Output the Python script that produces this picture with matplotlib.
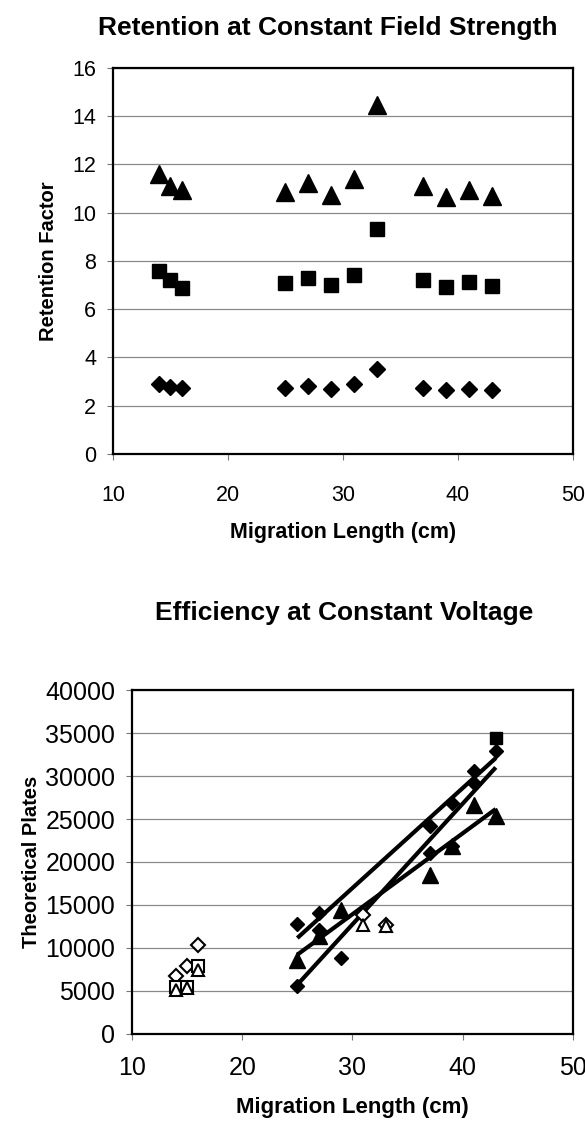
import matplotlib
matplotlib.use("Agg")
from matplotlib import pyplot as plt

plt.rcParams["font.family"] = ["Liberation Sans", "DejaVu Sans"]

# --- top chart: retention factor vs migration length ---
length_top = [14, 15, 16, 25, 27, 29, 31, 33, 37, 39, 41, 43]
ret_triangle = [11.6, 11.12, 10.93, 10.84, 11.23, 10.73, 11.4, 14.45, 11.09, 10.64, 10.95, 10.7]
ret_square = [7.6, 7.22, 6.89, 7.07, 7.3, 6.99, 7.43, 9.32, 7.2, 6.92, 7.12, 6.95]
ret_diamond = [2.91, 2.78, 2.75, 2.72, 2.8, 2.71, 2.89, 3.54, 2.73, 2.64, 2.71, 2.65]

# --- bottom chart: theoretical plates vs migration length ---
dia_x = [25, 27, 37, 39, 41, 25, 27, 29, 37, 39, 41, 43]
dia_y = [12800, 14070, 24140, 26860, 30530, 5540, 12130, 8840, 21050, 21810, 29190, 32860]
sq_x = [43]
sq_y = [34420]
tri_x = [25, 27, 29, 37, 39, 41, 43]
tri_y = [8640, 11350, 14370, 18520, 21810, 26660, 25380]

open_dia_x = [14, 15, 16, 31, 33]
open_dia_y = [6780, 7940, 10350, 13870, 12710]
open_sq_x = [14, 15, 16]
open_sq_y = [5470, 5470, 7860]
open_tri_x = [14, 15, 16, 31, 33]
open_tri_y = [5070, 5350, 7480, 12710, 12520]

trend_x = [25, 43]
trend_a = [11160, 32090]
trend_b = [5730, 31000]
trend_c = [9220, 26160]

fig = plt.figure(figsize=(5.85, 11.24), dpi=100)


def style_axes(ax, ylim, yticks, tick_size, xpad):
    ax.set_xlim(10, 50)
    ax.set_ylim(*ylim)
    ax.set_xticks([10, 20, 30, 40, 50])
    ax.set_yticks(yticks)
    ax.grid(axis="y", color="#8a8a8a", lw=0.9)
    ax.set_axisbelow(True)
    for s in ax.spines.values():
        s.set_linewidth(1.6)
        s.set_color("black")
    ax.tick_params(direction="out", length=4, width=0.8, color="#777777",
                   labelsize=tick_size)
    ax.tick_params(axis="x", pad=xpad)
    ax.tick_params(axis="y", pad=8)


ax1 = fig.add_axes([0.193, 0.5961, 0.786, 0.3434])
style_axes(ax1, (0, 16), range(0, 17, 2), 15.5, 18)
ax1.plot(length_top, ret_triangle, "^", color="black", ms=13)
ax1.plot(length_top, ret_square, "s", color="black", ms=9.5)
ax1.plot(length_top, ret_diamond, "D", color="black", ms=8)
ax1.set_xlabel("Migration Length (cm)", fontsize=15.5, fontweight="bold", labelpad=12)
ax1.set_ylabel("Retention Factor", fontsize=14.5, fontweight="bold", labelpad=10)
fig.text(0.56, 1 - 28 / 1124, "Retention at Constant Field Strength",
         ha="center", va="center", fontsize=19, fontweight="bold")

ax2 = fig.add_axes([0.2256, 0.0801, 0.7538, 0.306])
style_axes(ax2, (0, 40000), range(0, 40001, 5000), 18, 12)
ax2.plot(trend_x, trend_a, "-", color="black", lw=3, solid_capstyle="butt")
ax2.plot(trend_x, trend_b, "-", color="black", lw=3, solid_capstyle="butt")
ax2.plot(trend_x, trend_c, "-", color="black", lw=3, solid_capstyle="butt")
ax2.plot(dia_x, dia_y, "D", color="black", ms=7.5)
ax2.plot(sq_x, sq_y, "s", color="black", ms=9)
ax2.plot(tri_x, tri_y, "^", color="black", ms=11)
ax2.plot(open_dia_x, open_dia_y, "D", mfc="white", mec="black", mew=1.5, ms=7)
ax2.plot(open_sq_x, open_sq_y, "s", mfc="white", mec="black", mew=1.5, ms=8.5)
ax2.plot(open_tri_x, open_tri_y, "^", mfc="white", mec="black", mew=1.5, ms=8)
ax2.set_xlabel("Migration Length (cm)", fontsize=16, fontweight="bold", labelpad=12)
ax2.set_ylabel("Theoretical Plates", fontsize=14.5, fontweight="bold", labelpad=3)
fig.text(0.588, 1 - 613 / 1124, "Efficiency at Constant Voltage",
         ha="center", va="center", fontsize=19, fontweight="bold")

fig.savefig("out.png", dpi=100)
